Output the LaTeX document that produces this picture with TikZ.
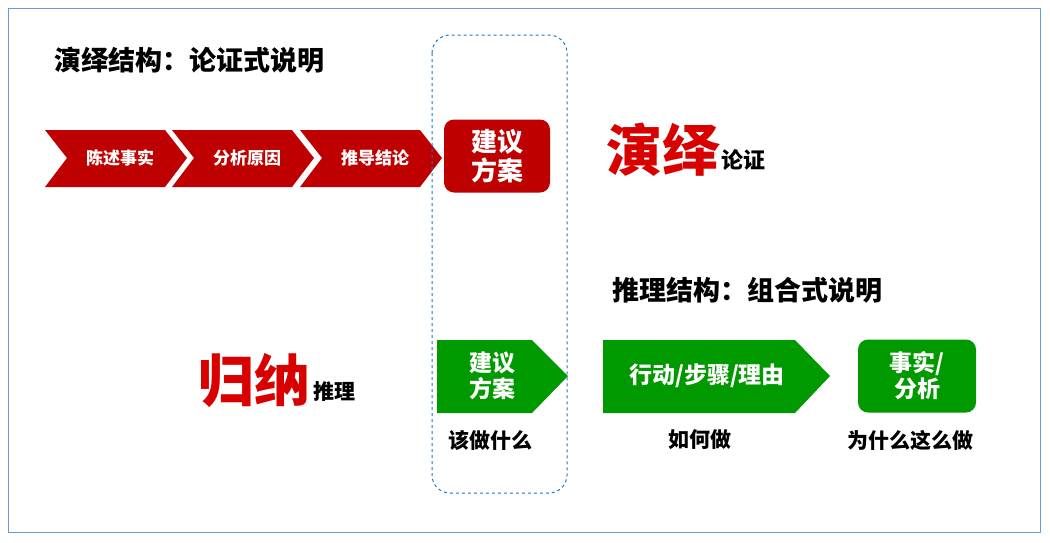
\documentclass[tikz,border=0pt]{standalone}
\usepackage{fontspec}
\newfontfamily\cjk{Noto Sans CJK SC}
\begin{document}
\begin{tikzpicture}[x=1pt,y=-1pt,font=\cjk\bfseries,
  lbl/.style={text=white, font=\cjk\bfseries\fontsize{17}{19}\selectfont},
  glbl/.style={text=white, font=\cjk\bfseries\fontsize{23}{26}\selectfont, align=center},
  capt/.style={font=\cjk\bfseries\fontsize{21}{24}\selectfont}]
\useasboundingbox (0,0) rectangle (1050,542);
\draw[cyan!50!blue!60, line width=1pt] (8,8) rectangle (1040,532);
\node[anchor=west, inner sep=0, font=\cjk\bfseries\fontsize{27}{30}\selectfont] (t1) at (54,60) {演绎结构：论证式说明};
\foreach \x/\t/\n in {45/陈述事实/c1,172/分析原因/c2,300/推导结论/c3}{
  \fill[red!75!black] (\x,130) -- (\x+120,130) -- (\x+142,158) -- (\x+120,187) -- (\x,187) -- (\x+22,158) -- cycle;
  \node[lbl] (\n) at (\x+75,158) {\t};
}
\node[fill=red!75!black, rounded corners=10pt, minimum width=106pt, minimum height=73pt, glbl, font=\cjk\bfseries\fontsize{26}{29}\selectfont] (r) at (497,156) {建议\\方案};
\draw[dashed, cyan!60!blue, line width=1pt, rounded corners=18pt] (432,35) rectangle (567,493);
\node[anchor=west, inner sep=0, text=red!85!black, font=\cjk\bfseries\fontsize{56}{60}\selectfont] (yy) at (606,150) {演绎};
\node[anchor=west, inner sep=0, font=\cjk\bfseries\fontsize{22}{24}\selectfont] (lz) at (721,160) {论证};
\node[anchor=west, inner sep=0, font=\cjk\bfseries\fontsize{27}{30}\selectfont] (t2) at (612,290) {推理结构：组合式说明};
\node[anchor=west, inner sep=0, text=red!85!black, font=\cjk\bfseries\fontsize{56}{60}\selectfont] (gn) at (198,380) {归纳};
\node[anchor=west, inner sep=0, font=\cjk\bfseries\fontsize{21}{24}\selectfont] (tl) at (313,392) {推理};
\fill[green!60!black] (437,340) -- (532,340) -- (568,376) -- (532,413) -- (437,413) -- cycle;
\node[glbl] (g1) at (492,376) {建议\\方案};
\fill[green!60!black] (603,340) -- (795,340) -- (830,376) -- (795,413) -- (603,413) -- cycle;
\node[glbl] (g2) at (707,376) {行动/步骤/理由};
\node[fill=green!60!black, rounded corners=10pt, minimum width=118pt, minimum height=73pt, glbl] (g3) at (917,376) {事实/\\分析};
\node[capt] (l1) at (490,440) {该做什么};
\node[capt] (l2) at (700,440) {如何做};
\node[capt] (l3) at (910,440) {为什么这么做};
\end{tikzpicture}
\end{document}
